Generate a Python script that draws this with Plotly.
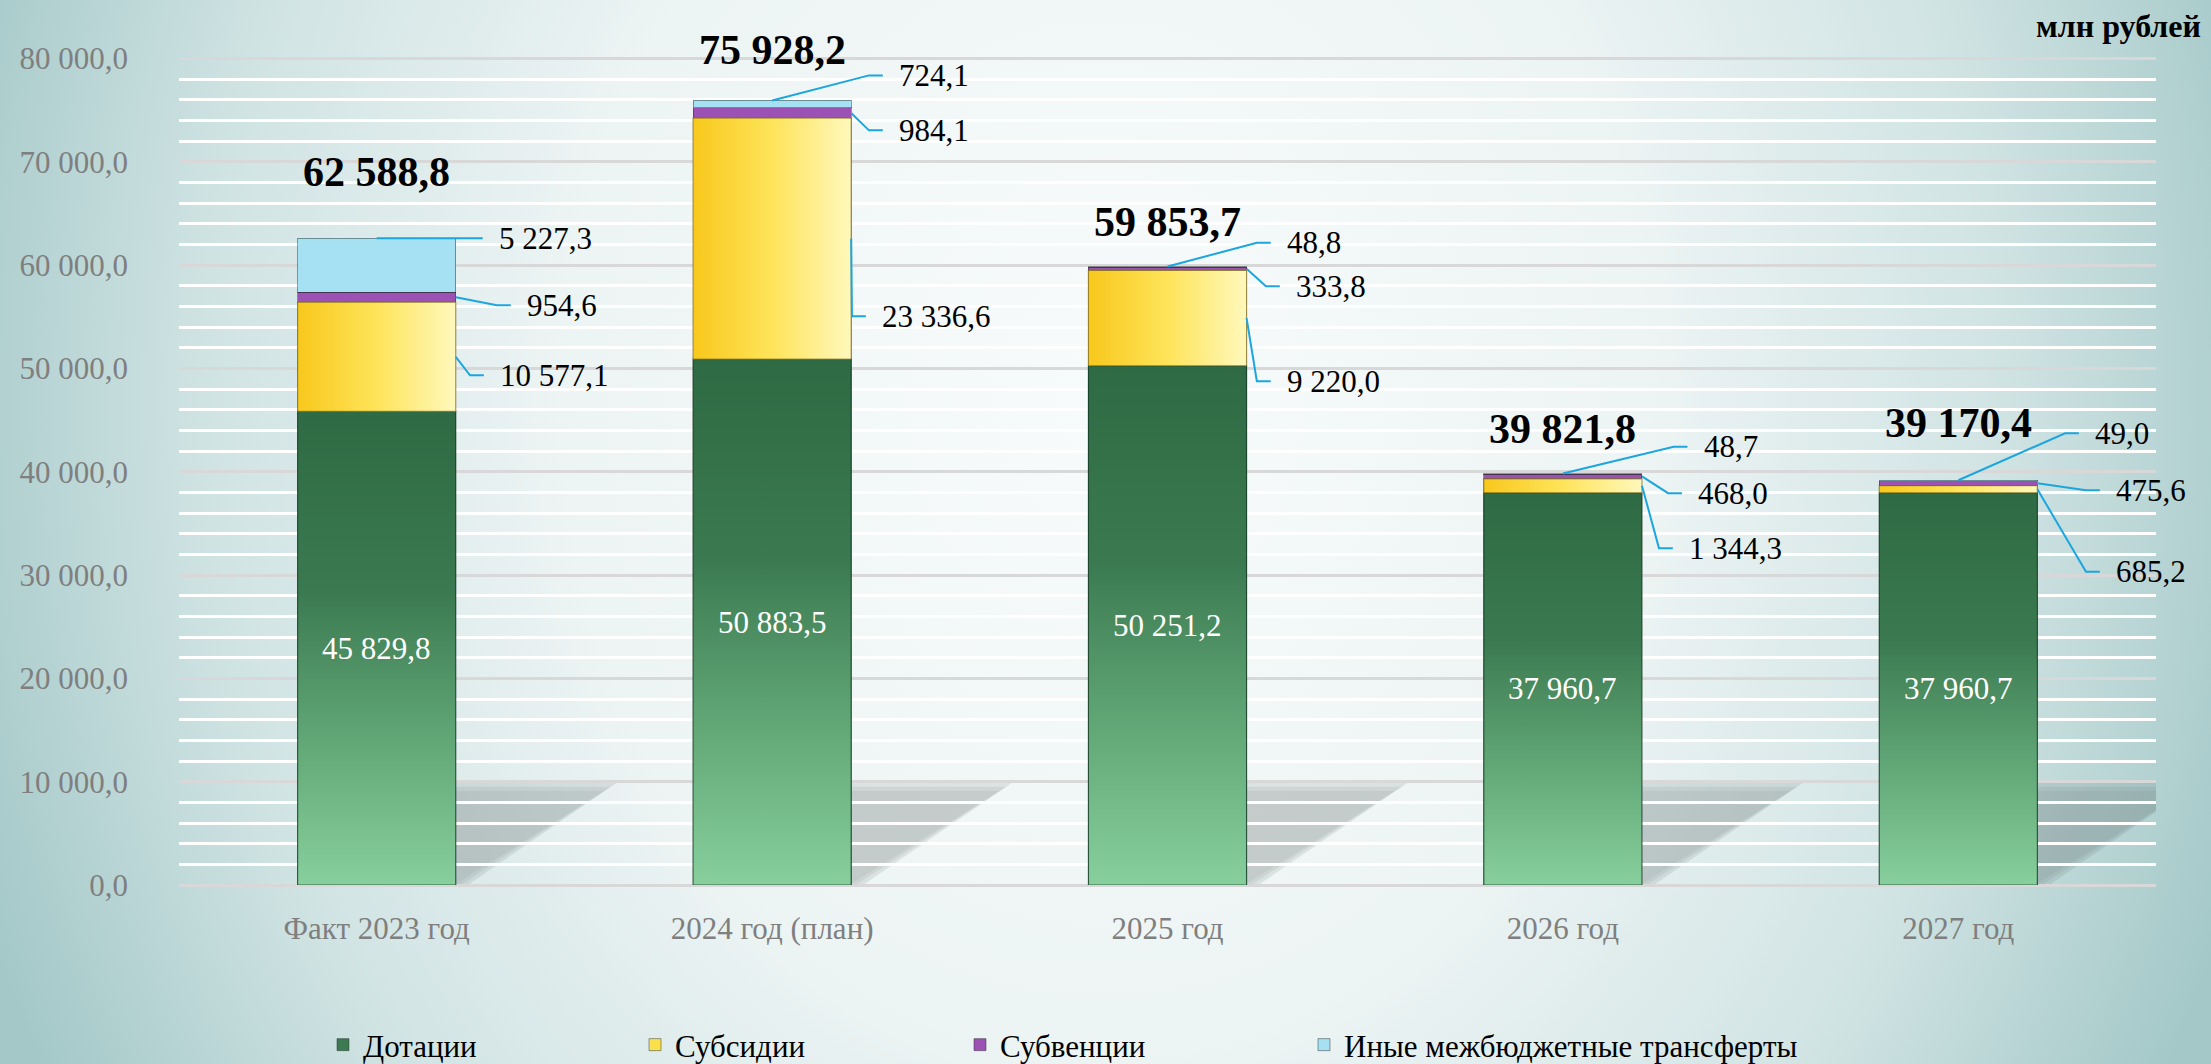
import base64
import plotly.graph_objects as go

# ---------------- data ----------------
categories = ["Факт 2023 год", "2024 год (план)", "2025 год", "2026 год", "2027 год"]
series_names = ["Дотации", "Субсидии", "Субвенции", "Иные межбюджетные трансферты"]
dotacii = [45829.8, 50883.5, 50251.2, 37960.7, 37960.7]
subsidii = [10577.1, 23336.6, 9220.0, 1344.3, 685.2]
subvencii = [954.6, 984.1, 333.8, 468.0, 475.6]
inye = [5227.3, 724.1, 48.8, 48.7, 49.0]
totals = [62588.8, 75928.2, 59853.7, 39821.8, 39170.4]
y_tick_values = [0, 10000, 20000, 30000, 40000, 50000, 60000, 70000, 80000]
unit_label = "млн рублей"

# ---------------- layout / style (not data) ----------------
W, H = 2211, 1064
ML, MR, MT, MB = 179, 55, 48, 179
PW, PH = W - ML - MR, H - MT - MB
Y_MAX = 81000
BAR_W = 0.4
HALF = BAR_W / 2
FONT = "Liberation Serif"

# total label vertical shift above bar top (px)
TOTAL_SHIFT = [66, 50, 45, 45, 57]
# outside labels: (dx from bar centre in category units, label y on value axis)
LABEL_DX = {
    "Иные межбюджетные трансферты": [0.304, 0.316, 0.297, 0.351, 0.341],
    "Субвенции": [0.375, 0.316, 0.320, 0.337, 0.394],
    "Субсидии": [0.307, 0.273, 0.297, 0.314, 0.394],
}
LABEL_Y = {
    "Иные межбюджетные трансферты": [62580, 78350, 62150, 42400, 43720],
    "Субвенции": [56100, 73030, 57940, 37920, 38210],
    "Субсидии": [49330, 55040, 48750, 32600, 30310],
}
COLORS = ["#3C7B51", "#FBE04E", "#9C52B4", "#A6E1F3"]
LEADER = "#1BA6E0"
LEGEND_PX = [323, 635, 960, 1304]   # legend box left edge, px
LEGEND_CY = 1045                     # legend vertical centre, px


def fmt(v):
    return f"{v:,.1f}".replace(",", " ").replace(".", ",")


x = list(range(len(categories)))
series = [dotacii, subsidii, subvencii, inye]
legend_ids = ["legend", "legend2", "legend3", "legend4"]

fig = go.Figure()

for name, vals, col, lg in zip(series_names, series, COLORS, legend_ids):
    fig.add_trace(go.Bar(
        x=x, y=vals, name=name, width=BAR_W, legend=lg,
        marker=dict(color=col, line=dict(color="rgba(30,40,35,0.45)", width=1)),
        hovertemplate=name + ": %{y:,.1f}<extra></extra>",
    ))

# gradient overlays for the two large series
bases = [0.0] * len(x)
cum = []
for k, vals in enumerate(series):
    seg = []
    for i in x:
        b = bases[i]
        t = b + vals[i]
        seg.append((b, t))
        if k == 0:
            fig.add_trace(go.Scatter(
                x=[i - HALF, i + HALF, i + HALF, i - HALF, i - HALF],
                y=[b, b, t, t, b], mode="lines", fill="toself",
                line=dict(width=1.2, color="rgba(20,55,35,0.7)"),
                fillgradient=dict(type="vertical", colorscale=[
                    [0, "#88CF9E"], [0.3, "#62A877"], [0.62, "#3B7A51"], [1, "#2E6A43"]]),
                showlegend=False, hoverinfo="skip"))
        elif k == 1:
            fig.add_trace(go.Scatter(
                x=[i - HALF, i + HALF, i + HALF, i - HALF, i - HALF],
                y=[b, b, t, t, b], mode="lines", fill="toself",
                line=dict(width=1.2, color="rgba(120,100,30,0.6)"),
                fillgradient=dict(type="horizontal", colorscale=[
                    [0, "#F8C81C"], [0.5, "#FEE45A"], [1, "#FFF8BC"]]),
                showlegend=False, hoverinfo="skip"))
        bases[i] = t
    cum.append(seg)

# leader lines
lx, ly = [], []
for k in (1, 2, 3):
    name = series_names[k]
    for i in x:
        b, t = cum[k][i]
        if k == 3:
            ax_, ay_ = i, cum[3][i][1]
        else:
            ax_, ay_ = i + HALF, (b + t) / 2
        tx = i + LABEL_DX[name][i]
        ty = LABEL_Y[name][i]
        lx += [ax_, tx - 0.071, tx - 0.036, None]
        ly += [ay_, ty, ty, None]
fig.add_trace(go.Scatter(x=lx, y=ly, mode="lines", line=dict(color=LEADER, width=2),
                         showlegend=False, hoverinfo="skip"))

annotations = []
for i in x:
    annotations.append(dict(x=i, y=cum[3][i][1], xref="x", yref="y", text=f"<b>{fmt(totals[i])}</b>",
                            showarrow=False, yshift=TOTAL_SHIFT[i], yanchor="middle",
                            font=dict(family=FONT, size=42, color="#000000")))
    annotations.append(dict(x=i, y=dotacii[i] / 2, xref="x", yref="y", text=fmt(dotacii[i]),
                            showarrow=False, font=dict(family=FONT, size=31, color="#FFFFFF")))
for k in (1, 2, 3):
    name = series_names[k]
    for i in x:
        annotations.append(dict(x=i + LABEL_DX[name][i], y=LABEL_Y[name][i], xref="x", yref="y",
                                text=fmt(series[k][i]), showarrow=False, xanchor="left", yanchor="middle",
                                font=dict(family=FONT, size=31, color="#000000")))
annotations.append(dict(x=(2203 - ML) / PW, y=1 + (MT - 26) / PH, xref="paper", yref="paper",
                        text=f"<b>{unit_label}</b>", showarrow=False, xanchor="right", yanchor="middle",
                        font=dict(family=FONT, size=32, color="#000000")))

# soft shadows behind bars (layered for blur)
shapes = []
for i in x:
    x0 = i + HALF
    for grow, op in ((0.035, 0.07), (0.018, 0.09), (0.0, 0.13)):
        top = 9960 - grow * 25000
        shapes.append(dict(type="path", xref="x", yref="y", layer="below",
                           path=(f"M {x0},0 L {x0},{top} L {x0 + 0.41 - grow},{top} "
                                 f"L {x0 + 0.03 - grow},0 Z"),
                           fillcolor=f"rgba(80,90,90,{op})", line=dict(width=0)))

# background gradient
svg = (f"<svg xmlns='http://www.w3.org/2000/svg' width='{W}' height='{H}' viewBox='0 0 {W} {H}'>"
       "<defs><radialGradient id='g' gradientUnits='userSpaceOnUse' cx='1105' cy='400' r='1200' "
       "gradientTransform='translate(1105 400) scale(1 1.2) translate(-1105 -400)'>"
       "<stop offset='0' stop-color='#F8FBFB'/><stop offset='0.45' stop-color='#EDF4F4'/>"
       "<stop offset='0.75' stop-color='#D0E3E3'/><stop offset='1' stop-color='#A4C8C8'/>"
       "</radialGradient></defs>"
       f"<rect width='{W}' height='{H}' fill='url(#g)'/></svg>")
bg = "data:image/svg+xml;base64," + base64.b64encode(svg.encode()).decode()

legend_common = dict(orientation="h", xref="container", yref="container",
                     xanchor="left", yanchor="middle", y=(H - LEGEND_CY) / H,
                     bgcolor="rgba(0,0,0,0)", font=dict(family=FONT, size=31, color="#000000"))
legends = {}
for lg, lpx in zip(legend_ids, LEGEND_PX):
    legends[lg] = dict(legend_common, x=lpx / W)

fig.update_layout(
    width=W, height=H, margin=dict(l=ML, r=MR, t=MT, b=MB, autoexpand=False),
    barmode="stack", showlegend=True,
    paper_bgcolor="#DCEAEA", plot_bgcolor="rgba(0,0,0,0)",
    font=dict(family=FONT, size=31, color="#7F7F7F"),
    xaxis=dict(range=[-0.5, len(categories) - 0.5], tickvals=x, ticktext=categories,
               showgrid=False, zeroline=False, showline=False, ticks="",
               ticklabelstandoff=22, tickfont=dict(family=FONT, size=31, color="#7F7F7F")),
    yaxis=dict(range=[0, Y_MAX], tickvals=y_tick_values, ticktext=[fmt(v) for v in y_tick_values],
               showgrid=True, gridcolor="#D8D8D8", gridwidth=2.5, zeroline=True, zerolinecolor="#D8D8D8",
               zerolinewidth=2.5, ticks="", ticklabelstandoff=50,
               tickfont=dict(family=FONT, size=31, color="#7F7F7F"),
               minor=dict(dtick=2000, showgrid=True, gridcolor="#FFFFFF", gridwidth=2.5)),
    annotations=annotations, shapes=shapes,
    images=[dict(source=bg, xref="paper", yref="paper", x=-ML / PW, y=1 + MT / PH,
                 sizex=W / PW, sizey=H / PH, xanchor="left", yanchor="top",
                 sizing="stretch", layer="below")],
    **legends,
)

fig.write_html("out.html", config={"displayModeBar": False},
               post_script="document.body.style.margin='0px';document.body.style.overflow='hidden';")
